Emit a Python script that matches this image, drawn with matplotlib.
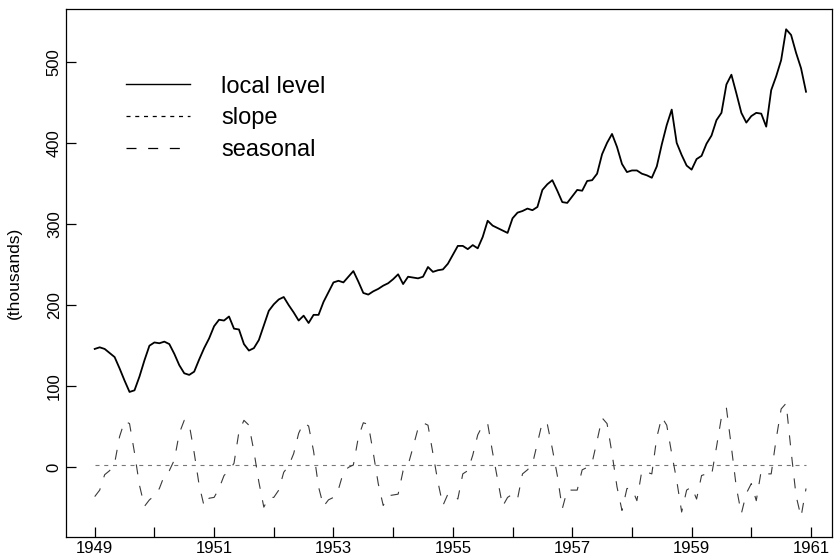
import numpy as np
import matplotlib
matplotlib.use("Agg")
import matplotlib.pyplot as plt
from matplotlib.lines import Line2D

plt.rcParams['font.family'] = ['Liberation Sans', 'DejaVu Sans']
plt.rcParams['lines.scale_dashes'] = False

start_year = 1949
freq = 12

level = [
    146, 148, 146, 141, 136, 122, 107, 93, 95, 112, 132, 150,
    154, 153, 155, 152, 140, 126, 116, 114, 118, 133, 147, 159,
    174, 182, 181, 186, 171, 170, 152, 144, 147, 157, 175, 193,
    201, 207, 210, 200, 191, 181, 187, 178, 188, 188, 204, 216,
    228, 230, 228, 235, 242, 229, 215, 213, 217, 220, 224, 227,
    232, 238, 226, 235, 234, 233, 235, 247, 241, 243, 244, 251,
    262, 273, 273, 269, 274, 270, 284, 304, 298, 295, 292, 289,
    307, 314, 316, 319, 317, 321, 342, 349, 354, 341, 327, 326,
    334, 342, 341, 353, 354, 362, 386, 400, 411, 395, 374, 364,
    366, 366, 362, 360, 357, 371, 398, 422, 441, 400, 385, 372,
    367, 380, 384, 399, 409, 428, 437, 472, 484, 461, 437, 425,
    433, 437, 436, 420, 465, 482, 502, 540, 533, 511, 492, 463,
]

slope = [
    2.5, 2.5, 2.5, 2.5, 2.5, 2.5, 2.5, 2.5, 2.5, 2.5, 2.5, 2.5,
    2.5, 2.5, 2.5, 2.5, 2.5, 2.5, 2.5, 2.5, 2.5, 2.5, 2.5, 2.5,
    2.5, 2.5, 2.5, 2.5, 2.5, 2.5, 2.5, 2.5, 2.5, 2.5, 2.5, 2.5,
    2.5, 2.5, 2.5, 2.5, 2.5, 2.5, 2.5, 2.5, 2.5, 2.5, 2.5, 2.5,
    2.5, 2.5, 2.5, 2.5, 2.5, 2.5, 2.5, 2.5, 2.5, 2.5, 2.5, 2.5,
    2.5, 2.5, 2.5, 2.5, 2.5, 2.5, 2.5, 2.5, 2.5, 2.5, 2.5, 2.5,
    2.5, 2.5, 2.5, 2.5, 2.5, 2.5, 2.5, 2.5, 2.5, 2.5, 2.5, 2.5,
    2.5, 2.5, 2.5, 2.5, 2.5, 2.5, 2.5, 2.5, 2.5, 2.5, 2.5, 2.5,
    2.5, 2.5, 2.5, 2.5, 2.5, 2.5, 2.5, 2.5, 2.5, 2.5, 2.5, 2.5,
    2.5, 2.5, 2.5, 2.5, 2.5, 2.5, 2.5, 2.5, 2.5, 2.5, 2.5, 2.5,
    2.5, 2.5, 2.5, 2.5, 2.5, 2.5, 2.5, 2.5, 2.5, 2.5, 2.5, 2.5,
    2.5, 2.5, 2.5, 2.5, 2.5, 2.5, 2.5, 2.5, 2.5, 2.5, 2.5, 2.5,
]

seasonal = [
    -36, -28, -9, -4, 5, 38, 57, 54, 18, -22, -48, -40,
    -35, -26, -10, -4, 9, 42, 58, 53, 18, -22, -48, -38,
    -37, -26, -10, -4, 5, 44, 58, 52, 20, -18, -49, -37,
    -37, -28, -6, 2, 17, 42, 55, 51, 20, -24, -48, -40,
    -37, -27, -6, 0, 3, 37, 55, 53, 18, -20, -47, -35,
    -34, -33, -4, 3, 25, 48, 55, 52, 17, -18, -47, -33,
    -33, -39, -8, -4, 15, 40, 52, 54, 18, -15, -48, -37,
    -33, -39, -8, -3, 4, 30, 56, 53, 23, -10, -51, -28,
    -28, -28, -3, 0, 6, 33, 61, 54, 17, -24, -53, -26,
    -26, -41, -4, -6, -8, 37, 62, 52, 17, -16, -55, -28,
    -24, -39, -10, -8, -10, 25, 62, 73, 25, -25, -57, -32,
    -20, -41, -4, -8, -8, 35, 72, 79, 20, -35, -61, -26,
]

years = list(range(1949, 1962))
year_labels = ['1949', '', '1951', '', '1953', '', '1955', '', '1957', '', '1959', '', '1961']
y_ticks = [0, 100, 200, 300, 400, 500]
series_names = ['local level', 'slope', 'seasonal']
y_title = '(thousands)'

t = start_year + np.arange(len(level)) / freq

fig = plt.figure(figsize=(8.34, 5.60), dpi=100)
ax = fig.add_axes([66 / 834, 23 / 560, 766 / 834, 528 / 560])

seasonal_style = (0, (7.2, 8.4))
slope_style = (0, (2.9, 3.4))

ax.plot(t, level, color='black', lw=1.3, solid_joinstyle='round')
ax.plot(t, slope, color='#777777', lw=0.8, linestyle=slope_style)
ax.plot(t, seasonal, color='#3a3a3a', lw=0.8, linestyle=seasonal_style)

ax.set_xlim(1948.519, 1961.352)
ax.set_ylim(-85.8, 565)

ax.set_xticks(years)
ax.set_xticklabels(year_labels)
ax.set_yticks(y_ticks)
ax.set_yticklabels([str(v) for v in y_ticks], rotation=90, va='center')
ax.tick_params(direction='in', length=7.2, width=0.9, labelsize=12, pad=3, color='black')

for s in ax.spines.values():
    s.set_linewidth(0.9)
    s.set_color('black')

ax.set_ylabel(y_title, fontsize=12.5)
ax.yaxis.set_label_coords(-0.0574, 0.5)

handles = [
    Line2D([], [], color='black', lw=1.0),
    Line2D([], [], color='black', lw=0.9, linestyle=slope_style),
    Line2D([], [], color='black', lw=0.9, linestyle=seasonal_style),
]
ax.legend(handles, series_names, loc='upper left', bbox_to_anchor=(0.0783, 0.874),
          frameon=False, fontsize=17, handlelength=2.71, handletextpad=1.31,
          labelspacing=0.41, borderpad=0, borderaxespad=0)

fig.savefig('out.png', dpi=100)
